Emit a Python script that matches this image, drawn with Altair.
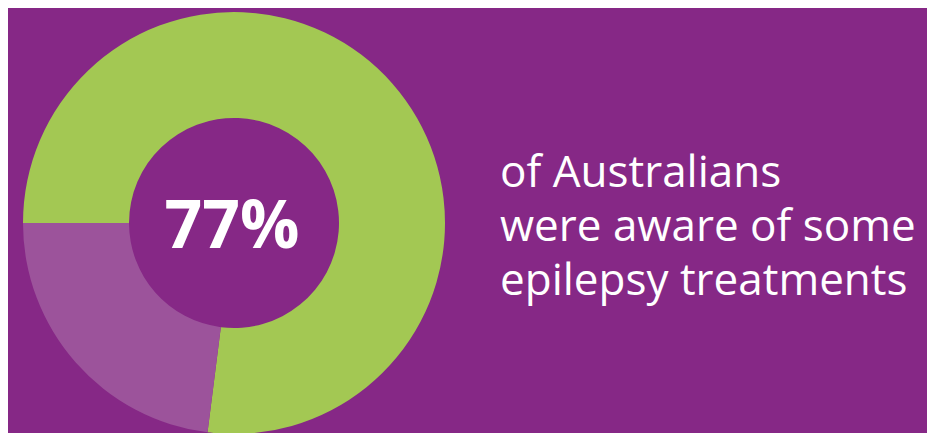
import altair as alt
import pandas as pd
import math

categories = ["Aware", "Not aware"]
values = [77, 23]
colors = ["#a3c853", "#9c539b"]
center_label = ["77%"]
text_lines = ["of Australians", "were aware of some", "epilepsy treatments"]
line_order = [0, 1, 2]

df = pd.DataFrame({"cat": categories, "val": values, "ord": [0, 1]})

cx, cy = 226, 215

arc = alt.Chart(df).mark_arc(radius=211, radius2=105, stroke=None).encode(
    theta=alt.Theta("val:Q", stack=True,
                    scale=alt.Scale(range=[1.5 * math.pi, 3.5 * math.pi])),
    order=alt.Order("ord:Q"),
    color=alt.Color("cat:N", scale=alt.Scale(domain=categories, range=colors), legend=None),
    x=alt.value(cx), y=alt.value(cy),
)

center = alt.Chart(pd.DataFrame({"t": center_label})).mark_text(
    font="Open Sans", fontWeight="bold", fontSize=66, color="white",
    align="center", baseline="alphabetic"
).encode(text="t:N", x=alt.value(224), y=alt.value(240))

tdf = pd.DataFrame({"t": text_lines, "i": line_order})
side = alt.Chart(tdf).mark_text(
    font="Open Sans", fontSize=44, color="white", align="left", baseline="alphabetic"
).encode(
    text="t:N",
    x=alt.value(492),
    y=alt.Y("i:Q", scale=alt.Scale(domain=[0, 2], range=[179, 287], nice=False, zero=False),
            axis=None),
)

chart = alt.layer(arc, center, side).properties(
    width=919, height=425, padding=0, autosize=alt.AutoSizeParams(type="none"),
    background="#862886"
).configure_view(stroke=None)

chart.save("out.html", embed_options={"renderer": "svg", "actions": False})
